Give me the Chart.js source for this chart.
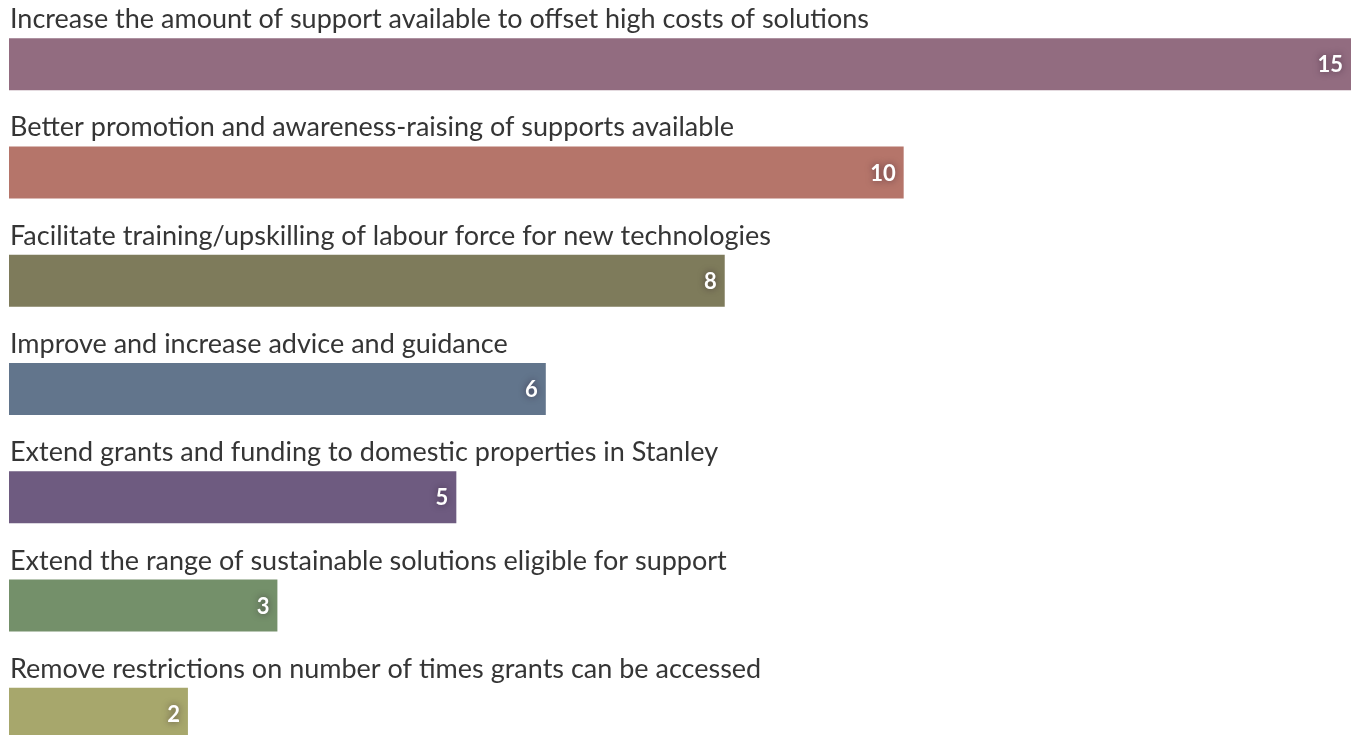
<!DOCTYPE html>
<html>
<head>
<meta charset="utf-8">
<script src="https://cdn.jsdelivr.net/npm/chart.js@4.4.1/dist/chart.umd.min.js"></script>
<style>
  html, body { margin: 0; padding: 0; background: #fff; overflow: hidden; }
  #wrap { width: 1356px; height: 770px; }
</style>
</head>
<body>
<div id="wrap"><canvas id="supportChart" width="1356" height="770"></canvas></div>
<script>
// data
const categories = [
  "Increase the amount of support available to offset high costs of solutions",
  "Better promotion and awareness-raising of supports available",
  "Facilitate training/upskilling of labour force for new technologies",
  "Improve and increase advice and guidance",
  "Extend grants and funding to domestic properties in Stanley",
  "Extend the range of sustainable solutions eligible for support",
  "Remove restrictions on number of times grants can be accessed"
]
const counts = [15, 10, 8, 6, 5, 3, 2]
const barColors = ["#926c80", "#b5756a", "#7e7b5b", "#62758c", "#6e5b80", "#74906a", "#a7a76c"]

const labelFont = "27px Lato, 'Liberation Sans', sans-serif"
const valueFont = "bold 22px Lato, 'Liberation Sans', sans-serif"

// labels above each bar + values inside bar end
const barText = {
  id: 'barText',
  afterDatasetsDraw(chart) {
    const ctx = chart.ctx
    const meta = chart.getDatasetMeta(0)
    ctx.save()
    meta.data.forEach((bar, i) => {
      const top = bar.y - bar.height / 2
      ctx.font = labelFont
      ctx.fillStyle = "#353535"
      ctx.textAlign = "left"
      ctx.textBaseline = "alphabetic"
      ctx.fillText(categories[i], bar.base + 1, top - 10)

      ctx.font = valueFont
      ctx.textAlign = "right"
      ctx.textBaseline = "middle"
      ctx.shadowColor = "rgba(40,20,40,0.6)"
      ctx.shadowBlur = 7
      ctx.fillStyle = "#ffffff"
      ctx.fillText(String(counts[i]), bar.x - 8, bar.y + 1)
      ctx.shadowBlur = 0
      ctx.shadowColor = "transparent"
    })
    ctx.restore()
  }
}

new Chart(document.getElementById('supportChart').getContext('2d'), {
  type: 'bar',
  data: {
    labels: categories,
    datasets: [{
      data: counts,
      backgroundColor: barColors,
      borderWidth: 0,
      categoryPercentage: 1,
      barPercentage: 0.48
    }]
  },
  options: {
    indexAxis: 'y',
    responsive: false,
    animation: false,
    layout: { padding: { left: 9, right: 5, top: 10, bottom: 2 } },
    scales: {
      x: { display: false, min: 0, max: 15 },
      y: { display: false }
    },
    plugins: {
      legend: { display: false },
      tooltip: { enabled: false }
    }
  },
  plugins: [barText]
})
</script>
</body>
</html>
